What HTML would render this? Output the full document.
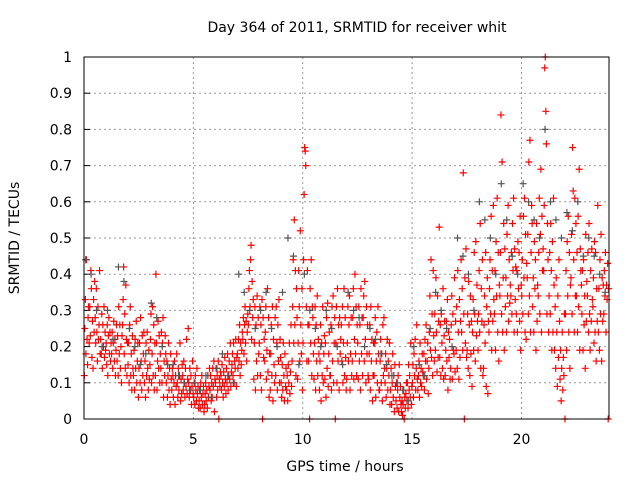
<!DOCTYPE html>
<html><head><meta charset="utf-8"><style>
body{margin:0;background:#fff}
svg{display:block;font-family:"DejaVu Sans","Liberation Sans",sans-serif}
</style></head><body>
<svg id="chart" width="640" height="480" viewBox="0 0 640 480">
<rect width="640" height="480" fill="#fff"/>
<text x="357" y="32" font-size="14" text-anchor="middle" fill="#000">Day 364 of 2011, SRMTID for receiver whit</text>
<text transform="translate(19,238) rotate(-90)" font-size="14" text-anchor="middle" fill="#000">SRMTID / TECUs</text>
<text x="345" y="471" font-size="14" text-anchor="middle" fill="#000">GPS time / hours</text>
<g id="grid"></g>
<g id="ticks"></g>
<g id="marks"></g>
<rect x="84" y="57" width="525" height="362" fill="none" stroke="#000" stroke-width="1"/>
</svg>
<script>
const xTicks=[0,5,10,15,20];
const yTicks=[0,0.1,0.2,0.3,0.4,0.5,0.6,0.7,0.8,0.9,1];
const yTickLabels=["0","0.1","0.2","0.3","0.4","0.5","0.6","0.7","0.8","0.9","1"];
const redBucketHours=0.25;
const redValues=[
[12,25,33,18,44,22,15,28,31,21],[31,23,41,36,17,27,14,33,24,38],[28,21,36,24,16,31,22,26,41,18],[22,18,29,14,26,20,31,17,24,19],
[21,15,26,12,23,28,18,24,16,21],[18,24,14,21,27,16,22,12,19,26],[16,23,12,31,18,26,14,20,10,23],[26,33,42,18,29,14,37,22,12,21],
[15,21,10,26,31,12,18,8,23,14],[12,19,8,22,14,27,10,16,21,6],[14,21,10,28,16,8,23,12,18,24],[10,16,6,21,12,24,14,8,19,11],
[15,22,29,10,18,31,12,26,8,21],[12,40,21,8,16,27,14,23,10,18],[14,24,10,21,28,6,16,12,23,18],[10,16,6,12,21,8,14,4,18,11],
[8,14,12,6,10,16,4,12,9,18],[10,6,14,8,12,21,5,11,7,15],[12,8,16,10,6,14,9,22,7,11],[25,10,6,14,8,12,4,9,16,7],
[6,10,4,12,8,5,14,7,9,3],[5,8,3,10,6,12,4,7,9,2],[4,7,10,5,8,3,12,6,9,14],[8,12,5,10,6,14,9,16,2,11],
[10,14,6,12,8,16,0,11,9,13],[12,8,15,10,6,13,9,17,11,7],[14,10,18,8,12,16,11,21,9,13],[15,18,12,21,10,16,14,22,9,17],
[18,14,22,16,26,12,21,15,19,24],[22,28,18,26,31,21,27,16,24,29],[26,36,41,31,44,48,22,38,28,33],[11,21,31,8,26,16,34,12,28,18],
[21,31,12,26,8,33,0,28,17,22],[16,24,31,11,19,36,13,28,6,18],[8,18,26,12,31,5,22,15,10,28],[12,31,21,8,26,16,33,10,22,17],
[10,6,15,8,21,12,5,18,9,14],[8,12,5,15,10,21,7,13,26,9],[16,31,44,21,55,26,41,12,36,28],[11,21,41,31,16,52,26,18,36,8],
[21,44,62,75,74,70,31,16,41,26],[16,26,0,36,21,44,12,31,28,18],[11,21,31,8,26,16,34,12,22,18],[8,16,26,5,21,12,31,10,18,23],
[11,21,6,28,14,32,9,18,24,12],[12,26,8,31,16,34,10,21,28,0],[21,31,10,36,16,26,8,28,18,22],[26,16,31,10,21,36,12,28,17,8],
[11,21,31,16,26,34,8,18,28,12],[16,28,36,11,22,40,18,31,12,26],[21,11,31,16,26,8,36,18,28,12],[28,34,16,38,22,10,31,18,26,12],
[11,18,26,8,31,16,22,5,12,21],[12,21,28,6,16,24,10,31,18,8],[8,16,22,10,18,5,26,12,28,14],[10,18,6,14,22,8,16,12,21,4],
[8,14,4,10,18,6,12,2,15,9],[5,10,3,8,12,2,15,6,9,4],[2,5,1,4,8,0,6,3,7,10],[5,10,3,15,8,12,6,21,4,9],
[10,15,6,18,12,22,8,14,26,11],[8,12,16,6,21,10,14,9,18,13],[12,18,8,22,16,26,11,16,21,7],[14,24,34,19,44,17,29,12,41,23],
[16,29,19,39,24,13,34,17,27,53],[17,26,12,29,21,14,36,11,23,27],[12,19,27,16,33,8,24,17,22,11],[14,26,34,11,29,19,18,39,13,27],
[19,31,14,41,24,11,33,17,27,44],[24,36,19,68,29,0,39,21,47,17],[19,29,14,38,26,12,34,18,27,9],[24,33,19,46,29,16,49,23,37,27],
[19,29,41,24,54,14,36,27,44,12],[14,26,34,21,46,9,31,39,7,27],[24,36,44,29,56,19,41,27,59,33],[29,41,19,49,34,61,24,46,16,37],
[34,46,84,29,71,24,39,54,19,47],[31,39,24,51,34,59,27,44,32,37],[34,46,29,54,41,61,24,47,33,42],[29,41,24,49,36,46,27,56,19,37],
[34,44,29,56,39,61,24,51,22,43],[39,51,29,71,34,77,24,46,59,54],[31,39,24,49,36,44,19,54,27,37],[34,46,61,29,51,69,24,56,41,47],
[41,59,97,100,85,76,29,54,44,24],[34,46,29,54,41,19,49,24,61,37],[19,31,14,39,24,9,34,17,44,27],[11,19,5,14,24,8,17,12,29,0],
[29,41,19,49,34,56,24,46,14,37],[39,51,29,75,63,44,24,61,34,54],[34,46,24,56,31,69,19,47,41,37],[29,41,19,44,26,34,14,51,27,38],
[34,46,24,54,29,19,41,27,47,33],[31,39,21,49,24,46,16,36,27,59],[24,36,19,44,29,51,16,39,27,37],[29,41,34,46,24,37,33,43,0,36]
];
const blackBucketHours=1;
const blackValues=[
[44,40,30,20],[30,22,42,38],[25,20,15,18],[32,28,20,15],[15,12,10,8],[10,8,12,6],
[14,18,12,10],[40,35,30,25],[30,35,25,20],[35,50,45,15],[40,30,25,20],[30,25,20,15],
[35,30,28,20],[25,22,18,15],[12,10,8,5],[20,15,12,25],[35,30,25,20],[50,45,40,30],
[60,55,50,40],[65,55,45,40],[65,60,55,50],[80,60,55,50],[57,52,60,45],[50,45,40,35]
];
const NS="http://www.w3.org/2000/svg";
const X0=84,X1=609,Y0=419,Y1=57,XMAX=24;
function sx(h){return X0+(X1-X0)*h/XMAX;}
function sy(v){return Y0-(Y0-Y1)*v;}
const grid=document.getElementById('grid'),ticks=document.getElementById('ticks'),marks=document.getElementById('marks');
function el(tag,attrs,parent){const e=document.createElementNS(NS,tag);for(const k in attrs)e.setAttribute(k,attrs[k]);parent.appendChild(e);return e;}
yTicks.forEach((v,i)=>{
  const y=sy(v);
  if(v>0&&v<1){const g=el('line',{x1:X0,x2:X1,y1:y,y2:y,stroke:'#999','stroke-dasharray':'2,3'},grid);
  
  }
  const t=el('line',{x1:X0,x2:X0+6,y1:y,y2:y,stroke:'#000'},ticks);
  
  
  const l=el('text',{x:X0-12,y:y+5,'font-size':14,'text-anchor':'end',fill:'#000'},ticks);
  
  
  l.textContent=yTickLabels[i];
});
xTicks.forEach(h=>{
  const x=sx(h);
  if(h>0){const g=el('line',{x1:x,x2:x,y1:Y1,y2:Y0,stroke:'#999','stroke-dasharray':'2,3'},grid);
  
  }
  const l=el('text',{x:x,y:444,'font-size':14,'text-anchor':'middle',fill:'#000'},ticks);
  
  
  l.textContent=String(h);
});
function plus(h,v,color){
  const x=sx(h),y=sy(v);
  const p=el('path',{d:`M${x-3.5} ${y}H${x+3.5}M${x} ${y-3.5}V${y+3.5}`,stroke:color,'stroke-width':1.2,fill:'none'},marks);
  
  
}
redValues.forEach((arr,b)=>arr.forEach((v,i)=>plus(b*redBucketHours+(i+0.5)*redBucketHours/arr.length,v/100,'#ff0000')));
blackValues.forEach((arr,b)=>arr.forEach((v,i)=>plus(b*blackBucketHours+(i+0.3)*blackBucketHours/arr.length,v/100,'#555555')));
</script>
</body></html>
